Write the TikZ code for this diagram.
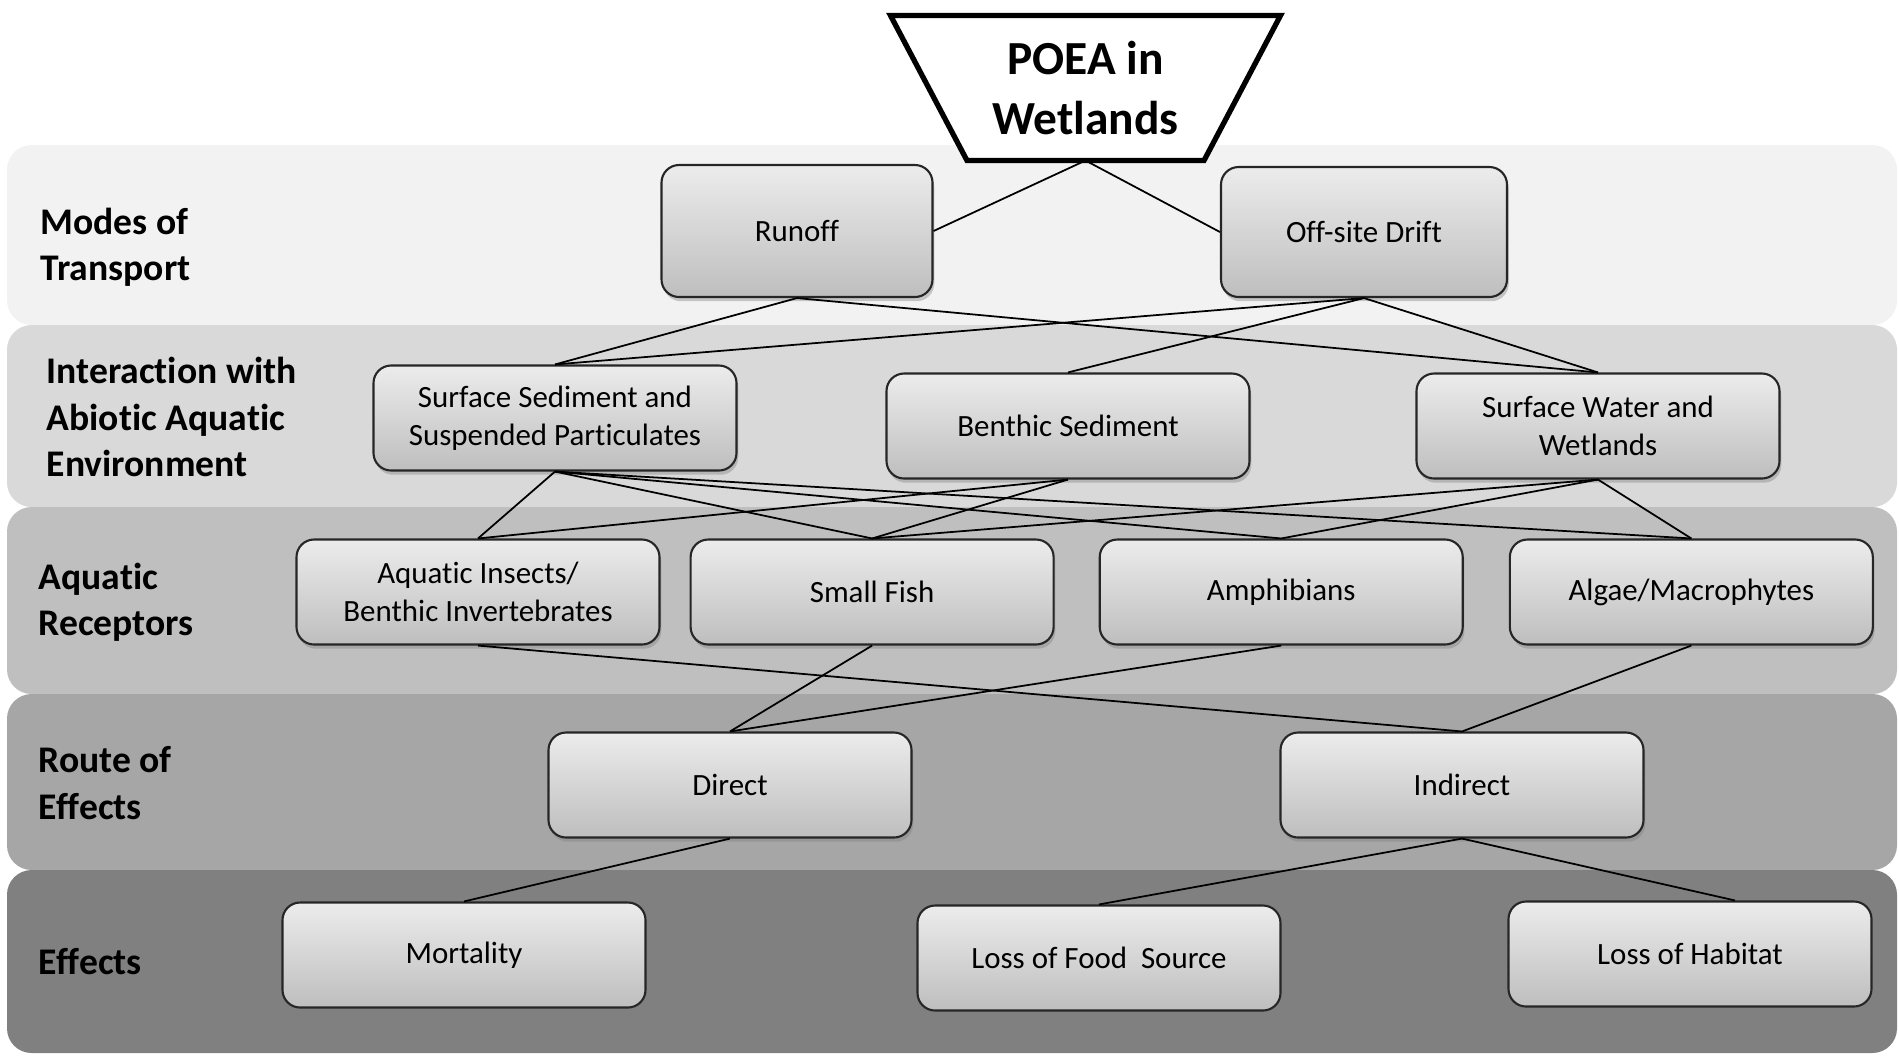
\documentclass[tikz,border=0pt]{standalone}
\usepackage{fontspec}
\setmainfont[Ligatures=CommonOff]{Carlito}
\usepackage{tikz}
\usetikzlibrary{positioning,shadows}
\definecolor{tierA}{HTML}{F2F2F2}
\definecolor{tierB}{HTML}{D9D9D9}
\definecolor{tierC}{HTML}{BFBFBF}
\definecolor{tierD}{HTML}{A6A6A6}
\definecolor{tierE}{HTML}{808080}
\definecolor{boxtop}{HTML}{ECECEC}
\definecolor{boxbottom}{HTML}{BEBEBE}
\tikzset{
  box/.style={
    rectangle,
    rounded corners=5pt,
    draw=black!85,
    line width=0.6pt,
    top color=boxtop,
    bottom color=boxbottom,
    minimum width=3.63cm,
    minimum height=1.05cm,
    inner sep=2pt,
    align=center,
    font=\fontsize{8.8}{10.7}\selectfont,
    drop shadow={shadow xshift=0.5pt, shadow yshift=-1.2pt, opacity=0.4}
  },
  hub/.style={
    rectangle,
    minimum width=3.90cm,
    minimum height=1.45cm,
    inner sep=0pt,
    outer sep=0pt,
    align=center,
    font=\bfseries\fontsize{13.5}{16.8}\selectfont
  },
  hubframe/.style={draw=black, line width=1.5pt, fill=white, line join=miter},
  rowlabel/.style={
    anchor=west,
    align=left,
    inner sep=0pt,
    font=\bfseries\fontsize{10.7}{13.2}\selectfont
  },
  tier/.style={rounded corners=7pt},
  conn/.style={line width=0.5pt, draw=black}
}

\begin{document}
\begin{tikzpicture}

\useasboundingbox (0,0) rectangle (18.99,-10.55);

% grey bands, one per level
\fill[tierA, tier] (0.07,-1.45) rectangle (18.97,-3.25);
\fill[tierB, tier] (0.07,-3.25) rectangle (18.97,-5.07);
\fill[tierC, tier] (0.07,-5.07) rectangle (18.97,-6.94);
\fill[tierD, tier] (0.07,-6.94) rectangle (18.97,-8.70);
\fill[tierE, tier] (0.07,-8.70) rectangle (18.97,-10.53);

% level names
\node[rowlabel] (lbltransport) at (0.40,-2.47) {Modes of\\Transport};
\node[rowlabel] (lblabiotic) at (0.46,-4.17) {Interaction with\\Abiotic Aquatic\\Environment};
\node[rowlabel] (lblreceptors) at (0.38,-6.02) {Aquatic\\Receptors};
\node[rowlabel] (lblroute) at (0.38,-7.83) {Route of\\Effects};
\node[rowlabel] (lbleffects) at (0.38,-9.62) {Effects};

% top of the tree: inverted trapezoid round the title
\node[hub] (title) at (10.855,-0.88) {};
\draw[hubframe] (title.north west) -- (title.north east)
  -- ([xshift=-0.765cm]title.south east) -- ([xshift=0.765cm]title.south west) -- cycle;
\node[hub] at (title) {POEA in\\Wetlands};

\node[box, minimum width=2.71cm, minimum height=1.32cm] (runoff) at (7.97,-2.31) {Runoff};
\node[box, minimum width=2.86cm, minimum height=1.30cm] (drift) at (13.64,-2.32) {Off-site Drift};

\node[box] (sussed) at (5.55,-4.18) {Surface Sediment and\\Suspended Particulates};
\node[box] (benthic) at (10.68,-4.26) {Benthic Sediment};
\node[box] (surfwater) at (15.98,-4.26) {Surface Water and\\Wetlands};

\node[box] (insects) at (4.78,-5.92) {Aquatic Insects/\\Benthic Invertebrates};
\node[box, right=0.29cm of insects] (fish) {Small Fish};
\node[box, right=0.44cm of fish] (amphib) {Amphibians};
\node[box, right=0.45cm of amphib] (algae) {Algae/Macrophytes};

\node[box] (direct) at (7.30,-7.85) {Direct};
\node[box] (indirect) at (14.62,-7.85) {Indirect};

\node[box] (mortality) at (4.64,-9.55) {Mortality};
\node[box] (foodloss) at (10.99,-9.58) {Loss of Food~ Source};
\node[box] (habitatloss) at (16.90,-9.54) {Loss of Habitat};

\draw[conn] (title.south) -- (runoff.east);
\draw[conn] (title.south) -- (drift.west);

\draw[conn] (runoff.south) -- (sussed.north);
\draw[conn] (runoff.south) -- (surfwater.north);
\draw[conn] (drift.south) -- (sussed.north);
\draw[conn] (drift.south) -- (benthic.north);
\draw[conn] (drift.south) -- (surfwater.north);

\draw[conn] (sussed.south) -- (insects.north);
\draw[conn] (sussed.south) -- (fish.north);
\draw[conn] (sussed.south) -- (amphib.north);
\draw[conn] (sussed.south) -- (algae.north);
\draw[conn] (benthic.south) -- (insects.north);
\draw[conn] (benthic.south) -- (fish.north);
\draw[conn] (surfwater.south) -- (fish.north);
\draw[conn] (surfwater.south) -- (amphib.north);
\draw[conn] (surfwater.south) -- (algae.north);

\draw[conn] (insects.south) -- (indirect.north);
\draw[conn] (fish.south) -- (direct.north);
\draw[conn] (amphib.south) -- (direct.north);
\draw[conn] (algae.south) -- (indirect.north);

\draw[conn] (direct.south) -- (mortality.north);
\draw[conn] (indirect.south) -- (foodloss.north);
\draw[conn] (indirect.south) -- ([xshift=0.45cm]habitatloss.north);

\end{tikzpicture}
\end{document}
